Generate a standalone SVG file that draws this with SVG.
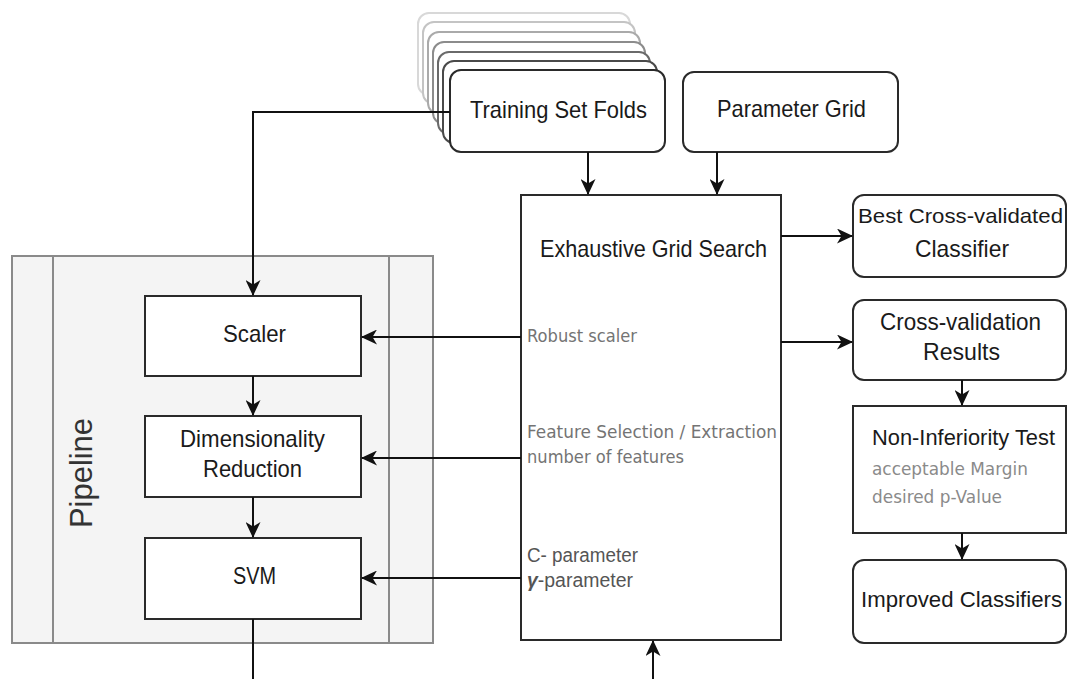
<svg xmlns="http://www.w3.org/2000/svg" width="1067" height="679" viewBox="0 0 1067 679">
<style>
.box{fill:#fff;stroke:#2a2a2a;stroke-width:2}
.t{font-family:"Liberation Sans",Arial,sans-serif;font-size:24px;fill:#1a1a1a}
.ts{font-family:"Liberation Sans",Arial,sans-serif;font-size:22px;fill:#1a1a1a}
.g{font-family:"DejaVu Sans",Verdana,sans-serif;font-size:18px;fill:#747474}
.gs{font-family:"DejaVu Sans",Verdana,sans-serif;font-size:17px;fill:#8a8a8a}
.p{font-family:"Liberation Sans",Arial,sans-serif;font-size:20px;fill:#555}
.pl{font-family:"Liberation Sans",Arial,sans-serif;font-size:32px;fill:#333}
.c{fill:none;stroke:#111;stroke-width:2}
</style>
<defs>
<marker id="ah" markerUnits="userSpaceOnUse" markerWidth="16" markerHeight="15" viewBox="0 0 16 15" refX="15" refY="7.5" orient="auto">
<path d="M0,0 L16,7.5 L0,15 L4.5,7.5 Z" fill="#111"/>
</marker>
</defs>

<g id="pipeline">
<rect x="12" y="256" width="421" height="387" fill="#f4f4f4" stroke="#8a8a8a" stroke-width="2"/>
<line x1="53" y1="256" x2="53" y2="643" stroke="#8a8a8a" stroke-width="2"/>
<line x1="389" y1="256" x2="389" y2="643" stroke="#8a8a8a" stroke-width="2"/>
<text class="pl" x="92" y="473" text-anchor="middle" textLength="110" lengthAdjust="spacingAndGlyphs" transform="rotate(-90 92 473)">Pipeline</text>
</g>

<g id="folds">
<rect x="418" y="13" width="212" height="82" rx="11" fill="#fff" stroke="#d8d8d8" stroke-width="2"/>
<rect x="423" y="22" width="212" height="82" rx="11" fill="#fff" stroke="#c4c4c4" stroke-width="2"/>
<rect x="428" y="32" width="212" height="82" rx="11" fill="#fff" stroke="#aaaaaa" stroke-width="2"/>
<rect x="433" y="42" width="212" height="82" rx="11" fill="#fff" stroke="#8c8c8c" stroke-width="2"/>
<rect x="438" y="52" width="212" height="82" rx="11" fill="#fff" stroke="#6a6a6a" stroke-width="2"/>
<rect x="443" y="61" width="214" height="82" rx="11" fill="#fff" stroke="#4a4a4a" stroke-width="2"/>
<rect class="box" x="450" y="70" width="215" height="82" rx="11"/>
<text class="t" x="470" y="118" textLength="177" lengthAdjust="spacingAndGlyphs">Training Set Folds</text>
</g>

<g id="paramgrid">
<rect class="box" x="683" y="72" width="215" height="80" rx="11"/>
<text class="t" x="717" y="117" textLength="149" lengthAdjust="spacingAndGlyphs">Parameter Grid</text>
</g>

<g id="gridsearch">
<rect class="box" x="521" y="195" width="260" height="445"/>
<text class="t" x="540" y="257" textLength="227" lengthAdjust="spacingAndGlyphs">Exhaustive Grid Search</text>
<text class="g" x="527" y="342" textLength="110" lengthAdjust="spacingAndGlyphs">Robust scaler</text>
<text class="g" x="527" y="438" textLength="250" lengthAdjust="spacingAndGlyphs">Feature Selection / Extraction</text>
<text class="g" x="527" y="463" textLength="157" lengthAdjust="spacingAndGlyphs">number of features</text>
<text class="p" x="527" y="562" textLength="111" lengthAdjust="spacingAndGlyphs">C- parameter</text>
<text class="p" x="527" y="587" textLength="106" lengthAdjust="spacingAndGlyphs"><tspan font-style="italic" font-weight="bold">γ</tspan>-parameter</text>
</g>

<g id="scaler">
<rect class="box" x="145" y="296" width="216" height="80"/>
<text class="t" x="223" y="342" textLength="63" lengthAdjust="spacingAndGlyphs">Scaler</text>
</g>

<g id="dimred">
<rect class="box" x="145" y="416" width="216" height="81"/>
<text class="t" x="180" y="447" textLength="145" lengthAdjust="spacingAndGlyphs">Dimensionality</text>
<text class="t" x="203" y="477" textLength="99" lengthAdjust="spacingAndGlyphs">Reduction</text>
</g>

<g id="svm">
<rect class="box" x="145" y="538" width="216" height="81"/>
<text class="t" x="233" y="584" textLength="43" lengthAdjust="spacingAndGlyphs">SVM</text>
</g>

<g id="best">
<rect class="box" x="853" y="195" width="213" height="82" rx="11"/>
<text class="ts" x="858" y="223" style="font-size:21px" textLength="205" lengthAdjust="spacingAndGlyphs">Best Cross-validated</text>
<text class="t" x="915" y="257" textLength="94" lengthAdjust="spacingAndGlyphs">Classifier</text>
</g>

<g id="cvresults">
<rect class="box" x="853" y="300" width="213" height="80" rx="11"/>
<text class="t" x="880" y="330" textLength="161" lengthAdjust="spacingAndGlyphs">Cross-validation</text>
<text class="t" x="923" y="360" textLength="77" lengthAdjust="spacingAndGlyphs">Results</text>
</g>

<g id="noninf">
<rect class="box" x="853" y="406" width="213" height="127"/>
<text class="ts" x="872" y="445" textLength="183" lengthAdjust="spacingAndGlyphs">Non-Inferiority Test</text>
<text class="gs" x="872" y="475" textLength="156" lengthAdjust="spacingAndGlyphs">acceptable Margin</text>
<text class="gs" x="872" y="503" textLength="130" lengthAdjust="spacingAndGlyphs">desired p-Value</text>
</g>

<g id="improved">
<rect class="box" x="853" y="560" width="213" height="83" rx="11"/>
<text class="ts" x="861" y="607" textLength="201" lengthAdjust="spacingAndGlyphs">Improved Classifiers</text>
</g>

<g id="connectors">
<path class="c" d="M450,112 L253,112 L253,295" marker-end="url(#ah)"/>
<path class="c" d="M253,376 L253,415" marker-end="url(#ah)"/>
<path class="c" d="M253,497 L253,537" marker-end="url(#ah)"/>
<path class="c" d="M253,619 L253,679"/>
<path class="c" d="M588,152 L588,194" marker-end="url(#ah)"/>
<path class="c" d="M717,152 L717,194" marker-end="url(#ah)"/>
<path class="c" d="M521,337 L362,337" marker-end="url(#ah)"/>
<path class="c" d="M521,458 L362,458" marker-end="url(#ah)"/>
<path class="c" d="M521,578 L362,578" marker-end="url(#ah)"/>
<path class="c" d="M781,236 L852,236" marker-end="url(#ah)"/>
<path class="c" d="M781,342 L852,342" marker-end="url(#ah)"/>
<path class="c" d="M962,380 L962,405" marker-end="url(#ah)"/>
<path class="c" d="M962,533 L962,559" marker-end="url(#ah)"/>
<path class="c" d="M653,679 L653,641" marker-end="url(#ah)"/>
</g>
</svg>
